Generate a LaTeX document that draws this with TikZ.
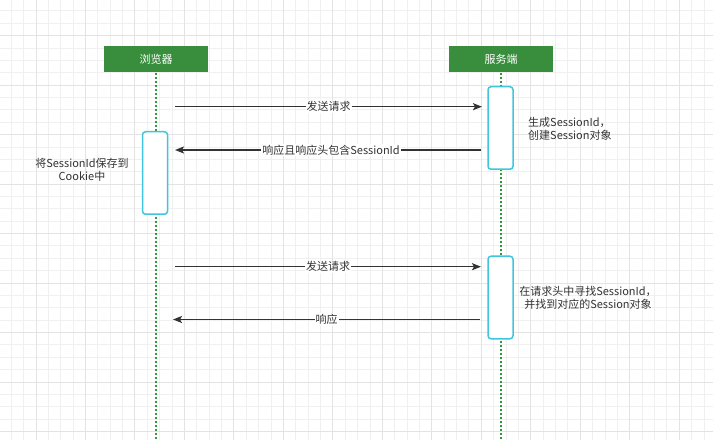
\documentclass[tikz,border=0pt]{standalone}
\usepackage{fontspec}
\setmainfont{Noto Sans CJK SC}
\usetikzlibrary{arrows.meta}
\definecolor{gridminor}{HTML}{F0F0F0}
\definecolor{gridmajor}{HTML}{E3E3E3}
\definecolor{hdrgreen}{HTML}{388E3C}
\definecolor{lifegreen}{HTML}{2E9A3A}
\definecolor{actcyan}{HTML}{3FC6DC}
\definecolor{txtgray}{HTML}{333333}
\tikzset{
  minorline/.style={gridminor, line width=1bp},
  majorline/.style={gridmajor, line width=1bp},
  header/.style={fill=hdrgreen, draw=none, text=white, minimum width=104bp, minimum height=26bp, inner sep=0pt, font=\fontsize{11bp}{13bp}\selectfont},
  lifeline/.style={lifegreen, line width=2bp, dash pattern=on 2bp off 2bp},
  actbox/.style={draw=actcyan, fill=white, line width=1.5bp, rounded corners=3bp, minimum width=25bp, inner sep=0pt},
  msg/.style={txtgray, line width=1.5bp, -{Stealth[length=9bp, width=7bp, inset=2bp]}},
  msglabel/.style={fill=white, inner sep=1bp, text=txtgray, font=\fontsize{11bp}{13bp}\selectfont},
  note/.style={text=txtgray, inner sep=0pt, font=\fontsize{11bp}{13.5bp}\selectfont},
}
\begin{document}
\begin{tikzpicture}[x=1bp, y=-1bp]
\useasboundingbox (0,0) rectangle (714,440);
\fill[white] (0,0) rectangle (714,440);
% grid
\foreach \i in {0,...,58} {\draw[minorline] ({-1.1+12.37*\i},0) -- ({-1.1+12.37*\i},440);}
\foreach \j in {0,...,36} {\draw[minorline] (0,{-1.4+12.37*\j}) -- (713,{-1.4+12.37*\j});}
\foreach \i in {0,...,13} {\draw[majorline] ({36+49.48*\i},0) -- ({36+49.48*\i},440);}
\foreach \j in {0,...,8} {\draw[majorline] (0,{35.7+49.48*\j}) -- (713,{35.7+49.48*\j});}
% headers
\node[header] (b) at (156,59.5) {浏览器};
\node[header] (s) at (501,59.5) {服务端};
% lifelines
\coordinate (bend) at (156,440);
\coordinate (send) at (501,440);
\draw[lifeline] (b.south) -- (bend);
\draw[lifeline] (s.south) -- (send);
% activations
\node[actbox, minimum height=82.5bp] (ab) at (155,173) {};
\node[actbox, minimum height=82.5bp] (as1) at (500.5,128) {};
\node[actbox, minimum height=82.5bp] (as2) at (500.5,297.5) {};
% message endpoints
\coordinate (m1a) at (175,106.7);
\coordinate (m1b) at (482,106.7);
\coordinate (m2a) at (481,150);
\coordinate (m2b) at (175,150);
\coordinate (m3a) at (175,266.7);
\coordinate (m3b) at (481,266.7);
\coordinate (m4a) at (480,319.5);
\coordinate (m4b) at (173,319.5);
\draw[msg] (m1a) -- node[msglabel, pos=0.5] {发送请求} (m1b);
\draw[msg] (m2a) -- node[msglabel, pos=0.49] {响应且响应头包含SessionId} (m2b);
\draw[msg] (m3a) -- node[msglabel, pos=0.5] {发送请求} (m3b);
\draw[msg] (m4a) -- node[msglabel, pos=0.5] {响应} (m4b);
% notes
\node[note, align=center] (n1) at (82,170) {将SessionId保存到\\Cookie中};
\node[note, align=left, anchor=west] (n2) at (528,129) {生成SessionId，\\创建Session对象};
\node[note, align=center] (n3) at (588,298) {在请求头中寻找SessionId，\\并找到对应的Session对象};
\end{tikzpicture}
\end{document}
